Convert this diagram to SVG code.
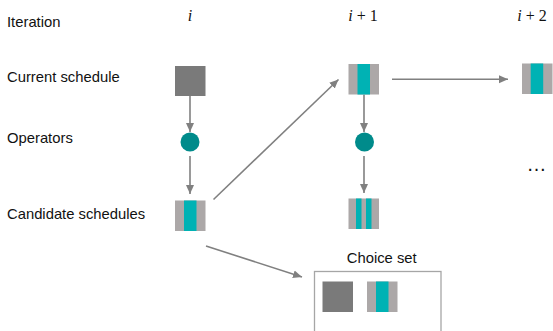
<svg xmlns="http://www.w3.org/2000/svg" width="553" height="331" viewBox="0 0 553 331">
<defs>
<style>
.lbl{font-family:"Liberation Sans",Arial,sans-serif;font-size:14.8px;fill:#111}
.it{font-family:"Liberation Serif","Times New Roman",serif;font-size:16px;fill:#111}
.dark{fill:#7a7a7a}
.light{fill:#aca8a8}
.teal{fill:#00b2b4}
.op{fill:#008b8b}
.conn{stroke:#808080;stroke-width:1.6;fill:none;marker-end:url(#ah)}
</style>
<marker id="ah" markerUnits="userSpaceOnUse" markerWidth="10" markerHeight="10" viewBox="0 0 10 10" refX="9" refY="5" orient="auto">
<path d="M0,1 L9,5 L0,9 Z" fill="#808080"/>
</marker>
</defs>
<rect width="553" height="331" fill="#fff"/>
<g id="row-labels">
<text class="lbl" x="7" y="27">Iteration</text>
<text class="lbl" x="7" y="81.5">Current schedule</text>
<text class="lbl" x="7" y="142.5">Operators</text>
<text class="lbl" x="7" y="219">Candidate schedules</text>
</g>
<g id="iter-labels">
<text class="it" x="190" y="21" text-anchor="middle" font-style="italic">i</text>
<text class="it" x="363" y="21" text-anchor="middle"><tspan font-style="italic">i</tspan> + 1</text>
<text class="it" x="532" y="21" text-anchor="middle"><tspan font-style="italic">i</tspan> + 2</text>
</g>
<g id="connectors">
<line class="conn" x1="190" y1="96" x2="190" y2="132"/>
<line class="conn" x1="190" y1="156" x2="190" y2="194"/>
<line class="conn" x1="213.5" y1="199.5" x2="338.5" y2="79.5"/>
<line class="conn" x1="206" y1="246" x2="302" y2="277"/>
<line class="conn" x1="364" y1="94.5" x2="364" y2="132"/>
<line class="conn" x1="364" y1="156" x2="364" y2="193"/>
<line class="conn" x1="392" y1="79.3" x2="508" y2="79.3"/>
</g>
<g id="current-i">
<rect class="dark" x="175" y="66" width="30.5" height="30"/>
</g>
<g id="op-i">
<circle class="op" cx="190" cy="142" r="9.5"/>
</g>
<g id="cand-i">
<rect class="light" x="175" y="200.5" width="30.5" height="30.5"/>
<rect class="teal" x="184" y="200.5" width="12.5" height="30.5"/>
</g>
<g id="current-i1">
<rect class="light" x="348.5" y="64" width="30.5" height="30.5"/>
<rect class="teal" x="357.5" y="64" width="12.5" height="30.5"/>
</g>
<g id="op-i1">
<circle class="op" cx="364.5" cy="142" r="9.5"/>
</g>
<g id="cand-i1">
<rect class="light" x="348.5" y="198.5" width="30.5" height="30.5"/>
<rect class="teal" x="356" y="198.5" width="5.5" height="30.5"/>
<rect class="teal" x="366" y="198.5" width="5.5" height="30.5"/>
</g>
<g id="current-i2">
<rect class="light" x="522" y="63.5" width="30.5" height="30.5"/>
<rect class="teal" x="530.7" y="63.5" width="12.5" height="30.5"/>
</g>
<g id="ellipsis">
<text class="lbl" x="536.5" y="171" text-anchor="middle" style="font-size:20px">…</text>
</g>
<g id="choice-set">
<text class="lbl" x="381.7" y="263" text-anchor="middle">Choice set</text>
<rect x="314.5" y="271.5" width="126.5" height="80" fill="none" stroke="#a6a6a6" stroke-width="1.3"/>
<rect class="dark" x="322.5" y="281.5" width="30.5" height="30.5"/>
<rect class="light" x="367" y="281.5" width="30.5" height="30.5"/>
<rect class="teal" x="376" y="281.5" width="12.5" height="30.5"/>
</g>
</svg>
